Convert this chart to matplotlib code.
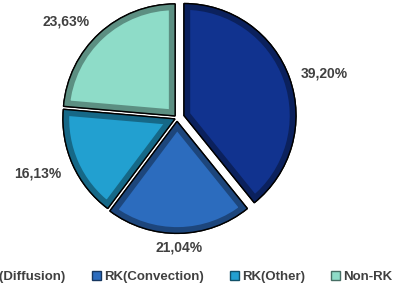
import numpy as np
import matplotlib
matplotlib.use("Agg")
import matplotlib.pyplot as plt
from matplotlib.patches import Wedge, Patch
import matplotlib.colors as mcolors

plt.rcParams['font.family'] = ['Liberation Sans', 'DejaVu Sans']

categories = ["RK(Diffusion)", "RK(Convection)", "RK(Other)", "Non-RK"]
values = [39.20, 21.04, 16.13, 23.63]
labels = ["39,20%", "21,04%", "16,13%", "23,63%"]
colors = ["#11338F", "#2C6CBE", "#22A0D0", "#8EDCC8"]
explode = [0.066, 0.03, 0.02, 0.025]
label_dist = [1.37, 1.16, 1.335, 1.31]
label_shift = [-2.7, 0, -2.5, 6.5]

fig = plt.figure(figsize=(3.96, 2.88), dpi=100)
ax = fig.add_axes([0, 0, 1, 1])

wedges, _ = ax.pie(values, colors=colors, startangle=90, counterclock=False,
                   explode=explode, radius=1.0,
                   wedgeprops=dict(edgecolor='black', linewidth=1.0))

for w, c in zip(wedges, colors):
    dark = np.array(mcolors.to_rgb(c)) * 0.65
    band = Wedge(w.center, w.r, w.theta1, w.theta2, facecolor='none',
                 edgecolor=dark, linewidth=9, zorder=w.get_zorder() + 0.1)
    ax.add_patch(band)
    band.set_clip_path(w)
    outline = Wedge(w.center, w.r, w.theta1, w.theta2, facecolor='none',
                    edgecolor='black', linewidth=1.0, zorder=w.get_zorder() + 0.2)
    ax.add_patch(outline)

for w, lab, d, s in zip(wedges, labels, label_dist, label_shift):
    ang = np.deg2rad((w.theta1 + w.theta2) / 2 + s)
    ax.text(d * np.cos(ang), d * np.sin(ang), lab, ha='center', va='center',
            fontsize=10, fontweight='bold', color='#404040')

# place pie: centre at (177,118) px, radius 112 px
r_px = 112
cx, cy = 177, 118
ax.set_xlim(-cx / r_px, (396 - cx) / r_px)
ax.set_ylim(-(288 - cy) / r_px, cy / r_px)
ax.set_aspect('equal')
ax.axis('off')

handles = [Patch(facecolor=c, edgecolor=np.array(mcolors.to_rgb(c)) * 0.5, linewidth=1)
           for c in colors]
fig.legend(handles, categories, loc='center right', bbox_to_anchor=(0.99, 0.038),
           ncol=4, frameon=False, prop={'weight': 'bold', 'size': 9.5},
           handlelength=0.7, handleheight=0.7, handletextpad=0.2, columnspacing=2.0,
           labelcolor='#404040', borderaxespad=0, borderpad=0)

fig.savefig("out.png", dpi=100)
